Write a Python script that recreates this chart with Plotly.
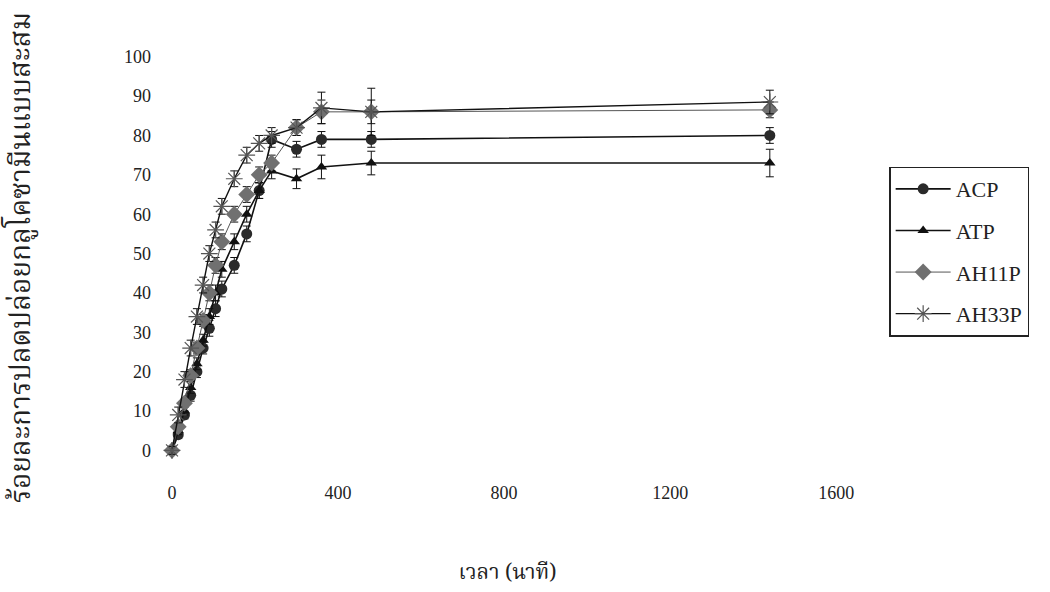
import plotly.graph_objects as go

# ---- data ----
time_min = [0, 15, 30, 45, 60, 75, 90, 105, 120, 150, 180, 210, 240, 300, 360, 480, 1440]

acp = [0, 4, 9, 14, 20, 26, 31, 36, 41, 47, 55, 66, 79, 76.5, 79, 79, 80]
acp_err = [1, 1, 1, 1.5, 1.5, 1.5, 2, 2, 2, 2, 2, 2, 2, 2, 2, 2, 2]

atp = [0, 5, 10, 16, 22, 28, 34, 40, 46, 53, 60, 66, 71, 69, 72, 73, 73]
atp_err = [1, 1, 1, 1.5, 1.5, 1.5, 2, 2, 2, 2, 2, 2, 2, 2.5, 3, 3, 3.5]

ah11p = [0, 6, 12, 19, 26, 33, 40, 47, 53, 60, 65, 70, 73, 82, 86, 86, 86.5]
ah11p_err = [1, 1, 1, 1.5, 1.5, 1.5, 2, 2, 2, 2, 2, 2, 2, 2, 3, 3, 2]

ah33p = [0, 9, 18, 26, 34, 42, 50, 56, 62, 69, 75, 78, 80, 82, 87, 86, 88.5]
ah33p_err = [1, 2, 2, 2, 2, 2, 2, 2, 2, 2, 2, 2, 2, 2, 4, 6, 3]

x_ticks = [0, 400, 800, 1200, 1600]
y_ticks = [0, 10, 20, 30, 40, 50, 60, 70, 80, 90, 100]

x_title = "เวลา (นาที)"
y_title = "ร้อยละการปลดปล่อยกลูโคซามีนแบบสะสม"

FONT = "Liberation Serif, Times New Roman, serif"
THAI = "Noto Serif Thai, Noto Sans Thai, Loma, Garuda, Norasi, Liberation Serif, serif"

fig = go.Figure()

def add(name, y, err, symbol, size, mcolor, lcolor, lwidth, group, mline_w=0, mline_c=None):
    fig.add_trace(go.Scatter(
        x=time_min, y=y, name=name, mode="lines+markers",
        legendgroup=group,
        line=dict(color=lcolor, width=lwidth),
        marker=dict(symbol=symbol, size=size, color=mcolor,
                    line=dict(width=mline_w, color=mline_c or mcolor)),
        error_y=dict(type="data", array=err, visible=True,
                     color="#111111", thickness=1, width=4),
    ))

add("ACP", acp, acp_err, "circle", 11, "#2a2a2a", "#111111", 1.6, "g1")
add("ATP", atp, atp_err, "triangle-up", 10, "#111111", "#111111", 1.6, "g2")
add("AH11P", ah11p, ah11p_err, "diamond", 13, "#707070", "#555555", 1.0, "g3")
add("AH33P", ah33p, ah33p_err, "asterisk-open", 14, "#555555", "#111111", 1.4, "g4",
    mline_w=1.2, mline_c="#555555")

fig.update_layout(
    width=1050, height=592,
    paper_bgcolor="white", plot_bgcolor="white",
    margin=dict(l=158, r=193, t=41, b=114),
    font=dict(family=FONT, size=18, color="#222222"),
    showlegend=True,
    legend=dict(
        x=1.046, y=0.71, xanchor="left", yanchor="top",
        bgcolor="white", bordercolor="#222222", borderwidth=1.5,
        font=dict(family=FONT, size=22, color="#222222"),
        tracegroupgap=10, itemwidth=55,
    ),
    xaxis=dict(
        range=[-33.7, 1650],
        tickmode="array", tickvals=x_ticks, ticktext=[str(v) for v in x_ticks],
        showgrid=False, zeroline=False, showline=False, ticks="",
        ticklabelstandoff=6,
        title=dict(text=x_title, font=dict(family=THAI, size=21, color="#222222"),
                   standoff=62),
    ),
    yaxis=dict(
        range=[-6, 104],
        tickmode="array", tickvals=y_ticks, ticktext=[str(v) for v in y_ticks],
        showgrid=False, zeroline=False, showline=False, ticks="",
        ticklabelstandoff=6,
        title=dict(text=y_title, font=dict(family=THAI, size=28, color="#222222"),
                   standoff=86),
    ),
)

fig.write_html("out.html")
